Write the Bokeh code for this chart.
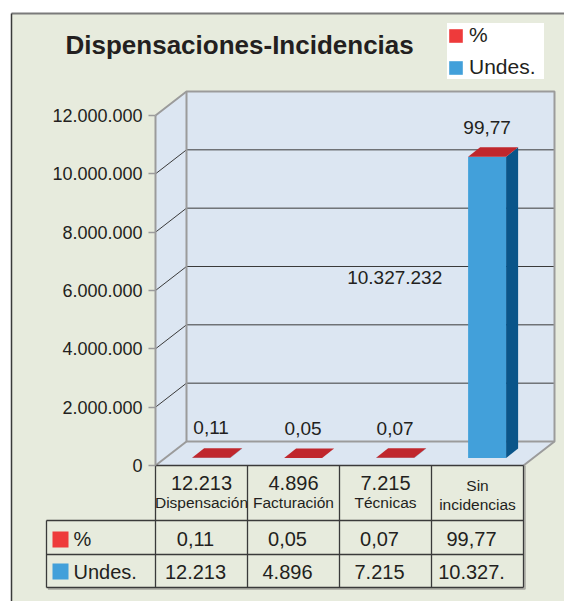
from bokeh.plotting import figure
from bokeh.models import Range1d, LinearAxis, FixedTicker, Legend, LegendItem
from bokeh.embed import file_html
from bokeh.resources import INLINE
from bokeh.core.properties import value

# ---------------- data ----------------
title_text = "Dispensaciones-Incidencias"
categories = ["Dispensación", "Facturación", "Técnicas", "Sin incidencias"]
header_lines = [["Dispensación"], ["Facturación"], ["Técnicas"], ["Sin", "incidencias"]]
series_names = ["%", "Undes."]
undes = [12213, 4896, 7215, 10327232]
pct = [0.11, 0.05, 0.07, 99.77]
pct_labels = ["0,11", "0,05", "0,07", "99,77"]
undes_labels = ["12.213", "4.896", "7.215", "10.327.232"]
table_pct_labels = ["0,11", "0,05", "0,07", "99,77"]
table_undes_labels = ["12.213", "4.896", "7.215", "10.327."]
y_ticks = [0, 2000000, 4000000, 6000000, 8000000, 10000000, 12000000]
y_tick_labels = ["0", "2.000.000", "4.000.000", "6.000.000", "8.000.000", "10.000.000", "12.000.000"]

# ---------------- geometry / style constants ----------------
W, H = 564, 601
OFF = 0                      # page offset of the canvas
AX_X = 155                   # screen x of value axis
ZERO_Y = 465                 # screen y of value 0 (front)
COL = 92.0                   # px per category
PXM = 350.0 / 12000000       # px per unit value
BL = 0.38                    # baseline correction (em)

def dx(px):
    return (px - AX_X) / COL

def dy(py):
    return (ZERO_Y - py) / PXM

def by(py, size):
    """data y for a text baseline at screen py"""
    return dy(py - BL * size)

DX = 31 / COL                # wall depth
DY = 24 / PXM
BW = 38 / COL                # bar width
BDX = 12 / COL               # bar depth
BDY = 9.5 / PXM
INSET = 0.31                 # bar position inside floor depth
n = len(categories)
YMAX = y_ticks[-1]

FONT = "Liberation Sans"
TXT = "#231f20"
BG = "#e7ebdd"
WALL = "#dce6f2"
EDGE = "#9b9b9b"
GRID = "#3a3a3a"
RED_TOP = "#c0272d"
RED = "#ee3a3b"
BLUE = "#42a0da"
BLUE_SIDE = "#0a5589"

p = figure(width=W, height=H, x_range=Range1d(dx(OFF), dx(OFF + W)),
           y_range=Range1d(dy(OFF + H), dy(OFF)),
           x_axis_location=None, y_axis_location=None,
           toolbar_location=None, output_backend="svg", min_border=0)
p.grid.visible = False
p.outline_line_color = None
p.background_fill_color = "white"
p.border_fill_color = "white"

# panel background + frame
p.quad(left=dx(11), right=dx(OFF + W) + 1, top=dy(13), bottom=dy(OFF + H) - 1e6,
       fill_color=BG, line_color=None)
p.line(x=[dx(11), dx(OFF + W) + 1], y=[dy(13), dy(13)], line_color="#7a7a7a", line_width=2)
p.line(x=[dx(11), dx(11)], y=[dy(13), dy(OFF + H) - 1e6], line_color="#3a3a3a", line_width=1.5)

# title
p.text(x=[dx(65)], y=[by(54, 26)], text=[title_text], text_font=value(FONT),
       text_font_size=value("26px"), text_font_style="bold", text_color=TXT,
       text_align="left", text_baseline="alphabetic")

# walls
p.patch(x=[0, DX, DX, 0], y=[0, DY, YMAX + DY, YMAX], fill_color=WALL, line_color=None)
p.quad(left=DX, right=n + DX, bottom=DY, top=YMAX + DY, fill_color=WALL, line_color=None)
p.patch(x=[0, n, n + DX, DX], y=[0, 0, DY, DY], fill_color=WALL, line_color=None)

grid_vals = y_ticks[1:-1]
p.segment(x0=[DX] * len(grid_vals), y0=[v + DY for v in grid_vals],
          x1=[n + DX] * len(grid_vals), y1=[v + DY for v in grid_vals],
          line_color=GRID, line_width=1)
p.segment(x0=[0] * len(grid_vals), y0=grid_vals, x1=[DX] * len(grid_vals),
          y1=[v + DY for v in grid_vals], line_color=GRID, line_width=1)
# wall edges
p.line(x=[0, DX, n + DX, n + DX, n], y=[YMAX, YMAX + DY, YMAX + DY, DY, 0],
       line_color=EDGE, line_width=2)
p.line(x=[DX, DX, n + DX], y=[YMAX + DY, DY, DY], line_color=EDGE, line_width=2)
p.line(x=[0, DX], y=[0, DY], line_color=EDGE, line_width=2)

# bars
centers = [i + 0.5 + INSET * DX for i in range(n)]
base = INSET * DY
xl = [c - BW / 2 for c in centers]
xr = [c + BW / 2 for c in centers]
tops = [base + u for u in undes]
p.quad(left=xl, right=xr, bottom=[base] * n, top=tops, fill_color=BLUE, line_color=None)
p.patches(xs=[[r, r + BDX, r + BDX, r] for r in xr],
          ys=[[base, base + BDY, t + BDY, t] for t in tops],
          fill_color=BLUE_SIDE, line_color=None)
tt = [t + q for t, q in zip(tops, pct)]
p.patches(xs=[[a, b, b + BDX, a + BDX] for a, b in zip(xl, xr)],
          ys=[[t, t, t + BDY, t + BDY] for t in tt],
          fill_color=RED_TOP, line_color=None)

# data labels
lab_off = (13 + BL * 19) / PXM
p.text(x=centers, y=[t + BDY + lab_off for t in tt], text=pct_labels,
       text_font=value(FONT), text_font_size=value("19px"), text_color=TXT,
       text_align="center", text_baseline="alphabetic")
big = [i for i in range(n) if undes[i] > 1000000]
p.text(x=[i + 0.5 - 0.9 for i in big], y=[undes[i] * 0.6 + BL * 19 / PXM for i in big],
       text=[undes_labels[i] for i in big], text_font=value(FONT),
       text_font_size=value("19px"), text_color=TXT, text_align="center",
       text_baseline="alphabetic")

# value axis
yaxis = LinearAxis(fixed_location=0, bounds=(0, YMAX), ticker=FixedTicker(ticks=y_ticks),
                   major_label_overrides={t: l for t, l in zip(y_ticks, y_tick_labels)},
                   axis_line_color=EDGE, axis_line_width=2,
                   major_tick_line_color=EDGE, major_tick_line_width=1.5,
                   major_tick_out=7, major_tick_in=0, minor_tick_out=0, minor_tick_in=0,
                   major_label_text_font=FONT, major_label_text_font_size="18px",
                   major_label_text_color=TXT, major_label_standoff=6)
p.add_layout(yaxis, "left")

# data table
t_left = dx(46)
r1, r2, r3 = dy(520), dy(554), dy(587)
# shadow
p.line(x=[t_left + 1.5 / COL, n + 1.5 / COL, n + 1.5 / COL], y=[r3 - 1.5 / PXM, r3 - 1.5 / PXM, 0],
       line_color="#a8a8a0", line_width=1.5)
p.segment(x0=[0, t_left, t_left, t_left], y0=[0, r1, r2, r3], x1=[n, n, n, n], y1=[0, r1, r2, r3],
          line_color=GRID, line_width=1.3)
vx = list(range(n + 1))
p.segment(x0=vx + [t_left], y0=[0] * (n + 1) + [r1], x1=vx + [t_left], y1=[r3] * (n + 2),
          line_color=GRID, line_width=1.3)

col_c = [i + 0.5 for i in range(n)]
# header cells: values for small bars, category names
small = [i for i in range(n) if undes[i] <= 1000000]
p.text(x=[col_c[i] for i in small], y=[by(490, 20)] * len(small),
       text=[undes_labels[i] for i in small], text_font=value(FONT),
       text_font_size=value("20px"), text_color=TXT, text_align="center",
       text_baseline="alphabetic")
hx, hy, ht = [], [], []
for i, lines in enumerate(header_lines):
    if len(lines) == 1:
        hx.append(col_c[i]); hy.append(by(508, 16)); ht.append(lines[0])
    else:
        hx += [col_c[i], col_c[i]]; hy += [by(491, 16), by(510, 16)]; ht += lines
p.text(x=hx, y=hy, text=ht, text_font=value(FONT), text_font_size=value("15.5px"),
       text_color=TXT, text_align="center", text_baseline="alphabetic")

shift = -6 / COL
p.text(x=[c + shift for c in col_c], y=[by(546, 20)] * n, text=table_pct_labels,
       text_font=value(FONT), text_font_size=value("20px"), text_color=TXT,
       text_align="center", text_baseline="alphabetic")
p.text(x=[c + shift for c in col_c], y=[by(579, 20)] * n, text=table_undes_labels,
       text_font=value(FONT), text_font_size=value("20px"), text_color=TXT,
       text_align="center", text_baseline="alphabetic")

# table row legend swatches + names
sw_pct = p.quad(left=[dx(52)], right=[dx(68)], top=[dy(531)], bottom=[dy(547)],
                fill_color=RED, line_color=None)
sw_und = p.quad(left=[dx(52)], right=[dx(68)], top=[dy(563)], bottom=[dy(579)],
                fill_color=BLUE, line_color=None)
p.text(x=[dx(73)] * 2, y=[by(546, 20), by(579, 20)], text=series_names, text_font=value(FONT),
       text_font_size=value("20px"), text_color=TXT, text_align="left",
       text_baseline="alphabetic")

# legend
legend = Legend(items=[LegendItem(label=series_names[0], renderers=[sw_pct]),
                       LegendItem(label=series_names[1], renderers=[sw_und])],
                location=(447 - OFF, H - (79 - OFF)),
                background_fill_color="white", background_fill_alpha=1,
                border_line_color=None, padding=4, margin=0, spacing=8,
                glyph_width=17, glyph_height=17, label_standoff=5, label_width=75,
                label_text_font=FONT, label_text_font_size="21px",
                label_text_color=TXT, label_height=17)
p.add_layout(legend, "center")

open("out.html", "w").write(file_html(p, INLINE))
